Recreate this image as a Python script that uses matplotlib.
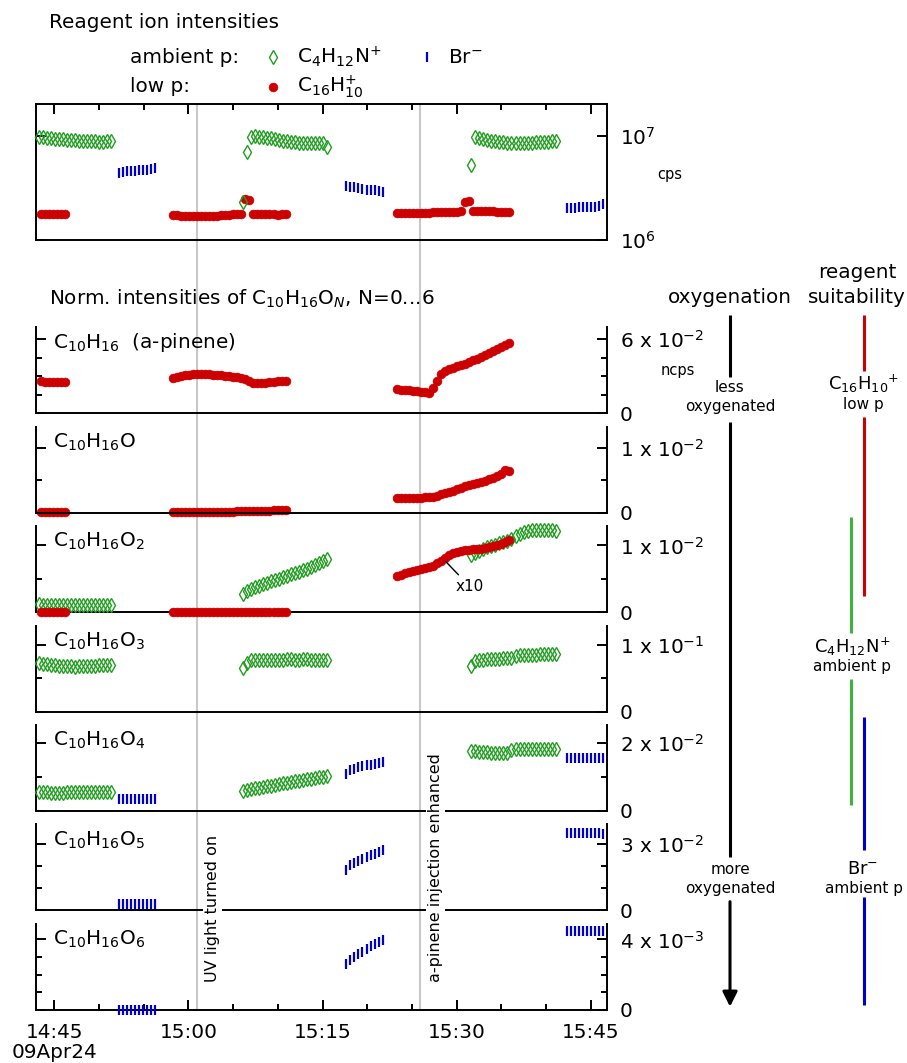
import numpy as np
import matplotlib
matplotlib.use("Agg")
import matplotlib.pyplot as plt
import matplotlib.dates as mdates
from matplotlib.ticker import FixedLocator, NullLocator, FixedFormatter

# ---------------------------------------------------------------- data
DAY = "2024-04-09T"
CADENCE_S = 27                      # sampling interval of all series (s)

# start time of each measurement segment
t0_greenA, t0_blueA, t0_redA = "14:43:15", "14:52:14", "14:43:28"
t0_redBC, t0_greenB, t0_blueB = "14:58:16", "15:06:06", "15:17:40"
t0_redDE, t0_greenC, t0_blueC = "15:23:18", "15:31:38", "15:42:18"
event_times = ["15:01:00", "15:25:56"]
event_labels = ["UV light turned on", "a-pinene injection enhanced"]
x_start, x_end = "14:42:57", "15:46:49"

# --- reagent ion intensities (cps, x1e6)
top_greenA = [9.8, 9.7, 9.6, 9.5, 9.4, 9.4, 9.3, 9.2, 9.2, 9.1, 9.0, 9.0, 8.9, 8.9, 8.9, 8.8, 8.8, 8.9, 8.9]
top_blueA = [4.45, 4.55, 4.6, 4.65, 4.65, 4.7, 4.7, 4.75, 4.8, 4.9]
top_redA = [1.77, 1.76, 1.77, 1.76, 1.76, 1.77, 1.76]
top_redBC = [1.74, 1.73, 1.72, 1.72, 1.71, 1.70, 1.70, 1.70, 1.71, 1.71, 1.72, 1.72, 1.73, 1.74, 1.75,
             1.76, 1.77, 1.79, 2.46, 2.42, 1.78, 1.79, 1.78, 1.77, 1.77, 1.76, 1.75, 1.76, 1.76]
top_greenB = [2.3, 7.06, 9.8, 9.9, 9.8, 9.7, 9.6, 9.5, 9.3, 9.2, 9.0, 8.9, 8.8, 8.7, 8.6, 8.6, 8.5, 8.5,
              8.5, 8.5, 8.6, 7.9]
top_blueB = [3.3, 3.25, 3.2, 3.15, 3.1, 3.05, 3.0, 3.0, 2.95, 2.92]
top_redDE = [1.80, 1.80, 1.81, 1.81, 1.81, 1.82, 1.82, 1.83, 1.83, 1.84, 1.84, 1.85, 1.85, 1.86, 1.86,
             1.87, 1.88, 2.33, 2.36, 1.92, 1.91, 1.90, 1.89, 1.88, 1.88, 1.87, 1.87, 1.86, 1.86]
top_greenC = [5.26, 9.7, 9.5, 9.3, 9.1, 9.0, 8.9, 8.8, 8.7, 8.6, 8.5, 8.5, 8.5, 8.5, 8.6, 8.6, 8.7, 8.7,
              8.8, 8.8, 8.9, 8.9]
top_blueC = [2.02, 2.04, 2.05, 2.06, 2.07, 2.08, 2.09, 2.10, 2.12, 2.22]

# --- C10H16 (x1e-2)
p1_redA = [2.58, 2.57, 2.57, 2.56, 2.56, 2.55, 2.55]
p1_redBC = [2.84, 2.92, 3.00, 3.07, 3.13, 3.18, 3.22, 3.22, 3.20, 3.17, 3.14, 3.11, 3.08, 3.04, 3.00,
            2.97, 2.93, 2.88, 2.80, 2.62, 2.47, 2.43, 2.42, 2.45, 2.50, 2.54, 2.58, 2.62, 2.62]
p1_redDE = [1.94, 1.91, 1.88, 1.85, 1.80, 1.77, 1.74, 1.71, 1.68, 2.05, 2.65, 3.15, 3.45, 3.62, 3.71,
            3.80, 3.92, 4.03, 4.18, 4.32, 4.42, 4.53, 4.70, 4.90, 5.08, 5.25, 5.38, 5.55, 5.66]
# --- C10H16O (redA/redBC x1e-4, redDE x1e-3)
p2_redA = [1.2, 1.2, 1.1, 1.1, 1.1, 1.0, 1.0]
p2_redBC = [1.0, 1.0, 1.1, 1.1, 1.1, 1.2, 1.2, 1.3, 1.3, 1.4, 1.4, 1.5, 1.5, 1.6, 1.7, 1.8, 1.9, 2.0,
            2.2, 2.4, 2.5, 2.7, 2.9, 3.0, 3.2, 3.4, 3.6, 3.8, 3.9]
p2_redDE = [2.20, 2.22, 2.24, 2.26, 2.28, 2.30, 2.32, 2.35, 2.38, 2.45, 2.6, 2.8, 3.0, 3.15, 3.35, 3.6,
            3.85, 4.05, 4.25, 4.4, 4.55, 4.72, 4.9, 5.1, 5.35, 5.65, 6.0, 6.55, 6.45]
# --- C10H16O2 (x1e-3); redDE shown x10
p3_greenA = [1.15, 1.12, 1.1, 1.1, 1.08, 1.08, 1.1, 1.1, 1.1, 1.1, 1.08, 1.08, 1.1, 1.1, 1.1, 1.12,
             1.12, 1.1, 1.1]
p3_redA = [0.02, 0.02, 0.02, 0.02, 0.02, 0.02, 0.02]
p3_redBC = [0.02, 0.02, 0.02, 0.02, 0.02, 0.02, 0.02, 0.02, 0.02, 0.02, 0.02, 0.02, 0.02, 0.02, 0.02,
            0.02, 0.02, 0.02, 0.02, 0.02, 0.02, 0.02, 0.02, 0.02, 0.02, 0.02, 0.02, 0.02, 0.02]
p3_greenB = [2.7, 3.2, 3.45, 3.7, 3.95, 4.2, 4.4, 4.6, 4.8, 5.0, 5.2, 5.45, 5.65, 5.85, 6.05, 6.3, 6.5,
             6.75, 7.0, 7.3, 7.6, 8.0]
p3_redDE_x10 = [5.4, 5.6, 5.8, 6.0, 6.2, 6.35, 6.5, 6.6, 6.7, 6.9, 7.3, 7.7, 8.1, 8.5, 8.8, 9.0, 9.15,
                9.25, 9.3, 9.4, 9.45, 9.5, 9.6, 9.75, 9.9, 10.05, 10.25, 10.5, 10.85]
p3_greenC = [8.5, 8.9, 9.2, 9.5, 9.75, 9.95, 10.1, 10.3, 10.5, 10.7, 11.0, 11.4, 11.7, 11.95, 12.1,
             12.25, 12.3, 12.35, 12.35, 12.3, 12.25, 12.15]
# --- C10H16O3 (x1e-2)
p4_greenA = [7.3, 7.2, 7.1, 7.0, 6.95, 6.9, 6.85, 6.8, 6.8, 6.75, 6.8, 6.8, 6.85, 6.9, 6.9, 6.95, 7.0,
             7.0, 7.05]
p4_greenB = [6.6, 7.3, 7.7, 7.75, 7.8, 7.8, 7.8, 7.75, 7.75, 7.8, 7.8, 7.85, 7.85, 7.8, 7.8, 7.85, 7.85,
             7.8, 7.8, 7.8, 7.75, 7.75]
p4_greenC = [6.9, 7.6, 7.75, 7.8, 7.85, 7.9, 7.9, 7.95, 8.0, 8.0, 8.1, 8.3, 8.45, 8.5, 8.5, 8.55, 8.55,
             8.6, 8.6, 8.65, 8.65, 8.6]
# --- C10H16O4 (x1e-3)
p5_greenA = [5.6, 5.5, 5.5, 5.4, 5.4, 5.4, 5.4, 5.5, 5.5, 5.5, 5.5, 5.5, 5.6, 5.6, 5.6, 5.6, 5.7, 5.7, 5.7]
p5_blueA = [3.6, 3.6, 3.5, 3.6, 3.6, 3.6, 3.6, 3.6, 3.6, 3.6]
p5_greenB = [6.0, 6.3, 6.5, 6.7, 6.9, 7.1, 7.3, 7.5, 7.7, 7.9, 8.1, 8.3, 8.5, 8.7, 8.9, 9.1, 9.3, 9.5,
             9.7, 9.9, 10.1, 10.4]
p5_blueB = [11.0, 12.0, 12.5, 13.0, 13.3, 13.5, 13.7, 13.9, 14.1, 14.3]
p5_greenC = [17.8, 17.6, 17.5, 17.4, 17.3, 17.2, 17.1, 17.0, 17.0, 17.1, 18.0, 18.2, 18.2, 18.3, 18.3,
             18.3, 18.4, 18.4, 18.4, 18.4, 18.3, 18.2]
p5_blueC = [15.6, 15.6, 15.6, 15.6, 15.6, 15.6, 15.6, 15.6, 15.6, 15.6]
# --- C10H16O5 (x1e-2)
p6_blueA = [0.27, 0.27, 0.27, 0.27, 0.27, 0.27, 0.27, 0.27, 0.27, 0.27]
p6_blueB = [1.82, 2.05, 2.15, 2.25, 2.35, 2.43, 2.50, 2.57, 2.65, 2.73]
p6_blueC = [3.52, 3.51, 3.51, 3.50, 3.51, 3.51, 3.50, 3.50, 3.50, 3.49]
# --- C10H16O6 (x1e-3)
p7_blueA = [0.01, 0.01, 0.01, 0.01, 0.01, 0.01, 0.01, 0.01, 0.01, 0.01]
p7_blueB = [2.58, 2.85, 3.0, 3.15, 3.3, 3.45, 3.6, 3.72, 3.85, 3.98]
p7_blueC = [4.47, 4.47, 4.47, 4.46, 4.46, 4.46, 4.46, 4.47, 4.47, 4.47]

panel_names = [r"C$_{10}$H$_{16}$  (a-pinene)", r"C$_{10}$H$_{16}$O", r"C$_{10}$H$_{16}$O$_2$",
               r"C$_{10}$H$_{16}$O$_3$", r"C$_{10}$H$_{16}$O$_4$", r"C$_{10}$H$_{16}$O$_5$",
               r"C$_{10}$H$_{16}$O$_6$"]
panel_ymax = [6.97e-2, 1.32e-2, 1.29e-2, 1.29e-1, 2.54e-2, 3.91e-2, 4.89e-3]
panel_major = [[0, 6e-2], [0, 1e-2], [0, 1e-2], [0, 1e-1], [0, 2e-2], [0, 3e-2], [0, 4e-3]]
panel_major_lbl = [["0", r"6 x 10$^{-2}$"], ["0", r"1 x 10$^{-2}$"], ["0", r"1 x 10$^{-2}$"],
                   ["0", r"1 x 10$^{-1}$"], ["0", r"2 x 10$^{-2}$"], ["0", r"3 x 10$^{-2}$"],
                   ["0", r"4 x 10$^{-3}$"]]
panel_minor = [[1.5e-2, 3e-2, 4.5e-2], [0.5e-2], [0.5e-2], [0.5e-1], [1e-2], [1e-2, 2e-2],
               [1e-3, 2e-3, 3e-3]]

# ---------------------------------------------------------------- style
GREEN, RED, BLUE = "#1f9e1f", "#cc0000", "#0000cc"
GREY = "#c8c8c8"
FS = 14.4
SPW = 1.4
W, H = 907, 1063
plt.rcParams["font.family"] = ["DejaVu Sans"]
plt.rcParams["mathtext.fontset"] = "dejavusans"


def times(start, n):
    return np.datetime64(DAY + start) + np.arange(n) * np.timedelta64(CADENCE_S, "s")


def T(s):
    return np.datetime64(DAY + s)


def green(ax, start, vals, scale):
    ax.plot(times(start, len(vals)), np.array(vals) * scale, ls="none", marker="d", ms=7.0,
            mfc="none", mec=GREEN, mew=1.0, clip_on=False, zorder=3)


def red(ax, start, vals, scale, z=2):
    ax.plot(times(start, len(vals)), np.array(vals) * scale, ls="none", marker="o", ms=6.4,
            mfc=RED, mec=RED, mew=0.4, clip_on=False, zorder=z)


def blue(ax, start, vals, scale):
    ax.plot(times(start, len(vals)), np.array(vals) * scale, ls="none", marker="|", ms=7.5,
            mec=BLUE, mew=1.6, clip_on=False, zorder=3)


fig = plt.figure(figsize=(W / 100, H / 100), dpi=100)


def rect(l, t, r, b):
    return [l / W, 1 - b / H, (r - l) / W, (b - t) / H]


AX_L, AX_R = 36, 607
TOP_T, TOP_B = 104.3, 240
ax_bg = fig.add_axes(rect(AX_L, TOP_T, AX_R, 1009.7), zorder=0)
ax_bg.set_xlim(T(x_start), T(x_end))
for et in event_times:
    ax_bg.axvline(T(et), color=GREY, lw=1.5)
ax_bg.axis("off")

ax_top = fig.add_axes(rect(AX_L, TOP_T, AX_R, TOP_B), zorder=1)
ax_top.patch.set_visible(False)
ax_top.set_yscale("log")
ax_top.set_ylim(1e6, 2.02e7)
ax_top.set_xlim(T(x_start), T(x_end))
ax_top.yaxis.set_major_locator(FixedLocator([1e6, 1e7]))
ax_top.yaxis.set_major_formatter(FixedFormatter([r"$10^{6}$", r"$10^{7}$"]))
ax_top.yaxis.set_minor_locator(NullLocator())
ax_top.xaxis.set_major_locator(mdates.MinuteLocator(byminute=[0, 15, 30, 45]))
ax_top.xaxis.set_minor_locator(mdates.MinuteLocator(byminute=range(0, 60, 5)))
ax_top.xaxis.set_major_formatter(mdates.DateFormatter("%H:%M"))
for s in ax_top.spines.values():
    s.set_linewidth(SPW)
ax_top.tick_params(axis="y", which="both", direction="in", left=True, right=True, labelleft=False,
                   labelright=True, labelsize=FS, pad=9, width=SPW, length=7.2)
ax_top.tick_params(axis="x", which="both", direction="in", top=True, bottom=False, labeltop=False,
                   labelbottom=False, width=SPW)
ax_top.tick_params(axis="x", which="major", length=7.2)
ax_top.tick_params(axis="x", which="minor", length=4.3)

red(ax_top, t0_redA, top_redA, 1e6)
red(ax_top, t0_redBC, top_redBC, 1e6)
red(ax_top, t0_redDE, top_redDE, 1e6)
blue(ax_top, t0_blueA, top_blueA, 1e6)
blue(ax_top, t0_blueB, top_blueB, 1e6)
blue(ax_top, t0_blueC, top_blueC, 1e6)
green(ax_top, t0_greenA, top_greenA, 1e6)
green(ax_top, t0_greenB, top_greenB, 1e6)
green(ax_top, t0_greenC, top_greenC, 1e6)

panels = []
for k in range(7):
    b = 413.3 + 99.4 * k
    ax = fig.add_axes(rect(AX_L, b - 86, AX_R, b), zorder=1, sharex=ax_top)
    ax.patch.set_visible(False)
    ax.spines["top"].set_visible(False)
    for s in ["left", "right", "bottom"]:
        ax.spines[s].set_linewidth(SPW)
    ax.set_ylim(0, panel_ymax[k])
    ax.yaxis.set_major_locator(FixedLocator(panel_major[k]))
    ax.yaxis.set_major_formatter(FixedFormatter(panel_major_lbl[k]))
    ax.yaxis.set_minor_locator(FixedLocator(panel_minor[k]))
    ax.tick_params(axis="y", which="both", direction="in", left=True, right=True, labelleft=False,
                   labelright=True, labelsize=FS, pad=9, width=SPW)
    ax.tick_params(axis="y", which="major", length=7.2)
    ax.tick_params(axis="y", which="minor", length=4.3)
    if k < 6:
        ax.tick_params(axis="x", which="both", bottom=False, top=False, labelbottom=False)
    else:
        ax.tick_params(axis="x", which="both", direction="in", bottom=True, top=False,
                       labelbottom=True, labelsize=FS, pad=9.4, width=SPW)
        ax.tick_params(axis="x", which="major", length=7.2)
        ax.tick_params(axis="x", which="minor", length=4.3)
    ax.annotate(panel_names[k], xy=(0, 0), xycoords="axes fraction", xytext=(17, 65),
                textcoords="offset pixels", fontsize=FS, va="baseline", ha="left")
    panels.append(ax)

p1, p2, p3, p4, p5, p6, p7 = panels
red(p1, t0_redA, p1_redA, 1e-2)
red(p1, t0_redBC, p1_redBC, 1e-2)
red(p1, t0_redDE, p1_redDE, 1e-2)

red(p2, t0_redA, p2_redA, 1e-4)
red(p2, t0_redBC, p2_redBC, 1e-4)
red(p2, t0_redDE, p2_redDE, 1e-3)

green(p3, t0_greenA, p3_greenA, 1e-3)
green(p3, t0_greenB, p3_greenB, 1e-3)
green(p3, t0_greenC, p3_greenC, 1e-3)
red(p3, t0_redA, p3_redA, 1e-3, z=4)
red(p3, t0_redBC, p3_redBC, 1e-3, z=4)
red(p3, t0_redDE, p3_redDE_x10, 1e-3, z=4)
p3.annotate("x10", xy=(T("15:28:46"), 7.6e-3), xytext=(T("15:31:25"), 3.9e-3), fontsize=11,
            ha="center", va="center", zorder=6,
            arrowprops=dict(arrowstyle="-", lw=1.0, color="black", shrinkA=1, shrinkB=0))

green(p4, t0_greenA, p4_greenA, 1e-2)
green(p4, t0_greenB, p4_greenB, 1e-2)
green(p4, t0_greenC, p4_greenC, 1e-2)

green(p5, t0_greenA, p5_greenA, 1e-3)
green(p5, t0_greenB, p5_greenB, 1e-3)
green(p5, t0_greenC, p5_greenC, 1e-3)
blue(p5, t0_blueA, p5_blueA, 1e-3)
blue(p5, t0_blueB, p5_blueB, 1e-3)
blue(p5, t0_blueC, p5_blueC, 1e-3)

blue(p6, t0_blueA, p6_blueA, 1e-2)
blue(p6, t0_blueB, p6_blueB, 1e-2)
blue(p6, t0_blueC, p6_blueC, 1e-2)

blue(p7, t0_blueA, p7_blueA, 1e-3)
blue(p7, t0_blueB, p7_blueB, 1e-3)
blue(p7, t0_blueC, p7_blueC, 1e-3)

ax_top.set_xlim(T(x_start), T(x_end))

# ---------------------------------------------------------------- overlay annotations (pixel coords)
ov = fig.add_axes([0, 0, 1, 1], zorder=10)
ov.set_xlim(0, W)
ov.set_ylim(H, 0)
ov.axis("off")

ov.text(49, 28.3, "Reagent ion intensities", fontsize=FS, va="baseline")
ov.text(130, 63.3, "ambient p:", fontsize=FS, va="baseline")
ov.text(130, 91.7, "low p:", fontsize=FS, va="baseline")
ov.plot([273.3], [56.7], ls="none", marker="d", ms=7.0, mfc="none", mec=GREEN, mew=1.0)
ov.plot([273.3], [87.3], ls="none", marker="o", ms=6.4, mfc=RED, mec=RED, mew=0.4)
ov.plot([426.7], [56.7], ls="none", marker="|", ms=7.5, mec=BLUE, mew=1.6)
ov.text(297.3, 63.3, r"C$_4$H$_{12}$N$^{+}$", fontsize=FS, va="baseline")
ov.text(297.3, 91.7, r"C$_{16}$H$_{10}^{+}$", fontsize=FS, va="baseline")
ov.text(448, 63.3, r"Br$^{-}$", fontsize=FS, va="baseline")
ov.text(49, 305, r"Norm. intensities of C$_{10}$H$_{16}$O$_N$, N=0...6", fontsize=FS, va="baseline")
ov.text(670, 174, "cps", fontsize=10.5, ha="center", va="center")
ov.text(678, 370, "ncps", fontsize=10.5, ha="center", va="center")
ov.text(54.3, 1058, "09Apr24", fontsize=FS, ha="center", va="baseline")

# event labels
ov.text(212.6, 908, event_labels[0], rotation=90, fontsize=11.5, ha="center", va="center",
        bbox=dict(facecolor="white", edgecolor="none", pad=1.5))
ov.text(435.6, 868, event_labels[1], rotation=90, fontsize=11.5, ha="center", va="center",
        bbox=dict(facecolor="white", edgecolor="none", pad=1.5))

# oxygenation arrow
ov.text(730, 303.3, "oxygenation", fontsize=FS, ha="center", va="baseline")
ov.plot([730, 730], [315, 376.7], color="black", lw=2.2, solid_capstyle="butt")
ov.plot([730, 730], [421.7, 856.7], color="black", lw=2.2, solid_capstyle="butt")
ov.annotate("", xy=(730, 1006.7), xytext=(730, 901.7),
            arrowprops=dict(arrowstyle="-|>", lw=2.2, color="black", mutation_scale=22,
                            shrinkA=0, shrinkB=0))
ov.text(730, 388, "less", fontsize=11, ha="center", va="center")
ov.text(730, 406.7, "oxygenated", fontsize=11, ha="center", va="center")
ov.text(730, 869, "more", fontsize=11, ha="center", va="center")
ov.text(730, 888, "oxygenated", fontsize=11, ha="center", va="center")

# reagent suitability
ov.text(857, 278, "reagent", fontsize=FS, ha="center", va="baseline")
ov.text(857, 303.3, "suitability", fontsize=FS, ha="center", va="baseline")
for x, y0, y1, c in [(864, 315, 370.7, "#cc0000"), (864, 416.7, 596, "#cc0000"),
                     (851, 517.3, 632.7, "#3cb43c"), (851, 679.3, 805, "#3cb43c"),
                     (864, 716.7, 850, "#0000cc"), (864, 896.7, 1005, "#0000cc")]:
    ov.plot([x, x], [y0, y1], color=c, lw=2.2, solid_capstyle="butt")
ov.text(863, 384, r"C$_{16}$H$_{10}$$^{+}$", fontsize=13, ha="center", va="center")
ov.text(863, 405, "low p", fontsize=11, ha="center", va="center")
ov.text(852, 646.7, r"C$_4$H$_{12}$N$^{+}$", fontsize=13, ha="center", va="center")
ov.text(852, 666.7, "ambient p", fontsize=11, ha="center", va="center")
ov.text(863, 869.3, r"Br$^{-}$", fontsize=13, ha="center", va="center")
ov.text(864, 888.3, "ambient p", fontsize=11, ha="center", va="center")

fig.savefig("out.png", dpi=100)
